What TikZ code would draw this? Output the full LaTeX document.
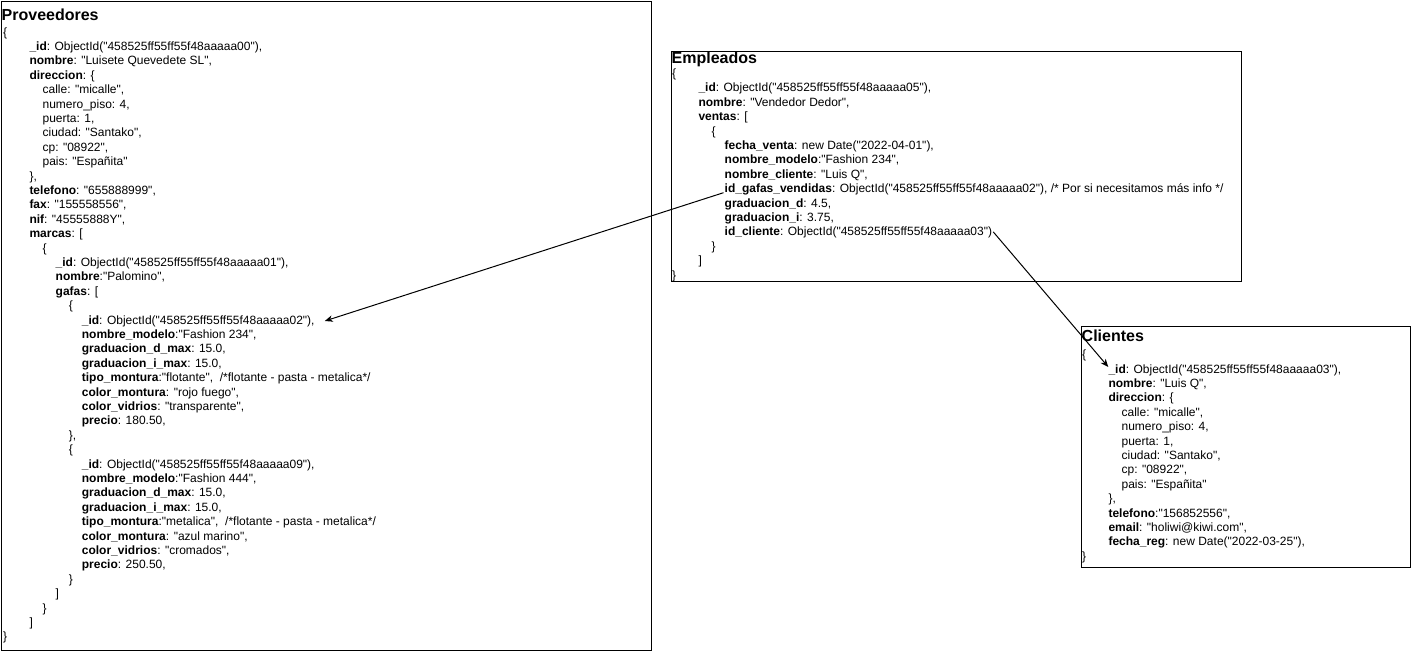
\documentclass[tikz,border=0pt]{standalone}
\usepackage{fontspec}
\setmainfont{Liberation Sans}[Ligatures=TeXOff]
\usetikzlibrary{arrows.meta,calc}
\newcounter{ln}
\newcommand\kk[1]{\textbf{#1}}
\tikzset{
  tl/.style={anchor=base west, inner sep=0pt, font=\fontsize{12}{14.4}\selectfont},
  ttl/.style={anchor=base west, inner sep=0pt, font=\fontsize{16}{19}\selectfont\bfseries},
  box/.style={draw, line width=1pt, anchor=north west, inner sep=0pt},
  link/.style={line width=1pt, -{Stealth[length=8pt,width=6.5pt,inset=2.5pt]}}
}
\newcommand\startbox[3]{\gdef\bx{#1}\gdef\by{#2}\gdef\bp{#3}\setcounter{ln}{0}}
\newcommand\jl[2]{\stepcounter{ln}%
  \pgfmathsetmacro\xx{\bx+(#1==0?0:13.1*#1+13.2)}%
  \pgfmathsetmacro\yy{\by+(\arabic{ln}-1)*14.4}%
  \node[tl] (\bp\arabic{ln}) at (\xx,\yy) {#2};}
\begin{document}
\begin{tikzpicture}[x=1pt,y=-1pt]
\useasboundingbox (0,0) rectangle (1411,651);
% boxes
\node[box, minimum width=650pt, minimum height=649pt] (prov) at (0.5,0.5) {};
\node[box, minimum width=570pt, minimum height=230pt] (emp) at (670.5,50.5) {};
\node[box, minimum width=329pt, minimum height=241pt] (cli) at (1080.5,325.5) {};
% titles
\node[ttl] (provt) at (1.5,20.7) {Proveedores};
\node[ttl] (empt) at (671.5,63.3) {Empleados};
\node[ttl] (clit) at (1081.5,341.7) {Clientes};
% Proveedores
\startbox{3}{36}{p}
\jl{0}{\{}
\jl{1}{\kk{\_id}: ObjectId("458525ff55ff55f48aaaaa00"),}
\jl{1}{\kk{nombre}: "Luisete Quevedete SL",}
\jl{1}{\kk{direccion}: \{}
\jl{2}{calle: "micalle",}
\jl{2}{numero\_piso: 4,}
\jl{2}{puerta: 1,}
\jl{2}{ciudad: "Santako",}
\jl{2}{cp: "08922",}
\jl{2}{pais: "Españita"}
\jl{1}{\},}
\jl{1}{\kk{telefono}: "655888999",}
\jl{1}{\kk{fax}: "155558556",}
\jl{1}{\kk{nif}: "45555888Y",}
\jl{1}{\kk{marcas}: [}
\jl{2}{\{}
\jl{3}{\kk{\_id}: ObjectId("458525ff55ff55f48aaaaa01"),}
\jl{3}{\kk{nombre}:"Palomino",}
\jl{3}{\kk{gafas}: [}
\jl{4}{\{}
\jl{5}{\kk{\_id}: ObjectId("458525ff55ff55f48aaaaa02"),}
\jl{5}{\kk{nombre\_modelo}:"Fashion 234",}
\jl{5}{\kk{graduacion\_d\_max}: 15.0,}
\jl{5}{\kk{graduacion\_i\_max}: 15.0,}
\jl{5}{\kk{tipo\_montura}:"flotante",\ \ /*flotante - pasta - metalica*/}
\jl{5}{\kk{color\_montura}: "rojo fuego",}
\jl{5}{\kk{color\_vidrios}: "transparente",}
\jl{5}{\kk{precio}: 180.50,}
\jl{4}{\},}
\jl{4}{\{}
\jl{5}{\kk{\_id}: ObjectId("458525ff55ff55f48aaaaa09"),}
\jl{5}{\kk{nombre\_modelo}:"Fashion 444",}
\jl{5}{\kk{graduacion\_d\_max}: 15.0,}
\jl{5}{\kk{graduacion\_i\_max}: 15.0,}
\jl{5}{\kk{tipo\_montura}:"metalica",\ \ /*flotante - pasta - metalica*/}
\jl{5}{\kk{color\_montura}: "azul marino",}
\jl{5}{\kk{color\_vidrios}: "cromados",}
\jl{5}{\kk{precio}: 250.50,}
\jl{4}{\}}
\jl{3}{]}
\jl{2}{\}}
\jl{1}{]}
\jl{0}{\}}
% Empleados
\startbox{672}{77.5}{e}
\jl{0}{\{}
\jl{1}{\kk{\_id}: ObjectId("458525ff55ff55f48aaaaa05"),}
\jl{1}{\kk{nombre}: "Vendedor Dedor",}
\jl{1}{\kk{ventas}: [}
\jl{2}{\{}
\jl{3}{\kk{fecha\_venta}: new Date("2022-04-01"),}
\jl{3}{\kk{nombre\_modelo}:"Fashion 234",}
\jl{3}{\kk{nombre\_cliente}: "Luis Q",}
\jl{3}{\kk{id\_gafas\_vendidas}: ObjectId("458525ff55ff55f48aaaaa02"), /* Por si necesitamos más info */}
\jl{3}{\kk{graduacion\_d}: 4.5,}
\jl{3}{\kk{graduacion\_i}: 3.75,}
\jl{3}{\kk{id\_cliente}: ObjectId("458525ff55ff55f48aaaaa03")}
\jl{2}{\}}
\jl{1}{]}
\jl{0}{\}}
% Clientes
\startbox{1082}{358.6}{c}
\jl{0}{\{}
\jl{1}{\kk{\_id}: ObjectId("458525ff55ff55f48aaaaa03"),}
\jl{1}{\kk{nombre}: "Luis Q",}
\jl{1}{\kk{direccion}: \{}
\jl{2}{calle: "micalle",}
\jl{2}{numero\_piso: 4,}
\jl{2}{puerta: 1,}
\jl{2}{ciudad: "Santako",}
\jl{2}{cp: "08922",}
\jl{2}{pais: "Españita"}
\jl{1}{\},}
\jl{1}{\kk{telefono}:"156852556",}
\jl{1}{\kk{email}: "holiwi@kiwi.com",}
\jl{1}{\kk{fecha\_reg}: new Date("2022-03-25"),}
\jl{0}{\}}
% connectors
\draw[link] ($(e9.base west)+(-1,0)$) -- ($(p21.base east)+(10,-3)$);
\draw[link] ($(e12.base east)+(1,-4)$) -- ($(c2.base west)+(0,-6)$);
\end{tikzpicture}
\end{document}
